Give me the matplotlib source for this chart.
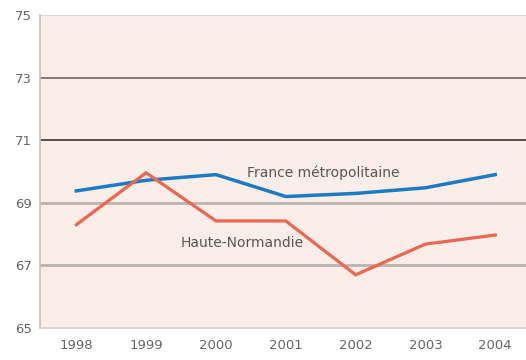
import matplotlib
matplotlib.use("Agg")
from matplotlib import pyplot as plt

years = [1998, 1999, 2000, 2001, 2002, 2003, 2004]
france = [69.38, 69.72, 69.9, 69.2, 69.3, 69.48, 69.9]
normandie = [68.3, 69.96, 68.42, 68.42, 66.7, 67.68, 67.97]
yticks = [65, 67, 69, 71, 73, 75]

plt.rcParams['font.family'] = ['Liberation Sans Narrow', 'DejaVu Sans']

fig = plt.figure(figsize=(5.26, 3.6), dpi=100)
ax = fig.add_axes([40/526, 1-328/360, 486/526, 313/360])
ax.set_facecolor('#fbeee9')

# lignes de grille
for y, c, lw in [(75, '#d8d0cc', 1.2), (73, '#6b6666', 1.2), (71, '#555050', 1.4),
                 (69, '#b9b3b0', 2.0), (67, '#b9b3b0', 2.0)]:
    ax.axhline(y, color=c, lw=lw, zorder=1)

ax.plot(years, france, color='#1b7bc4', lw=2.5, zorder=3, solid_joinstyle='miter')
ax.plot(years, normandie, color='#ec6650', lw=2.3, zorder=3, solid_joinstyle='miter')

ax.text(2000.45, 69.97, 'France métropolitaine', color='#5a5656', fontsize=10, va='center')
ax.text(1999.5, 67.7, 'Haute-Normandie', color='#5a5656', fontsize=10, va='center')

ax.set_xlim(1997.48, 2004.44)
ax.set_ylim(65, 75)
ax.set_yticks(yticks)
ax.set_xticks(years)
ax.tick_params(axis='both', length=0, labelsize=9.5, colors='#6a6565', pad=8)
ax.tick_params(axis='y', pad=6)

for s in ['top', 'right']:
    ax.spines[s].set_visible(False)
ax.spines['left'].set_color('#c8c0bc')
ax.spines['bottom'].set_color('#d8d0cc')
ax.spines['left'].set_linewidth(1.2)
ax.spines['bottom'].set_linewidth(1.2)

fig.savefig('out.png', dpi=100)
